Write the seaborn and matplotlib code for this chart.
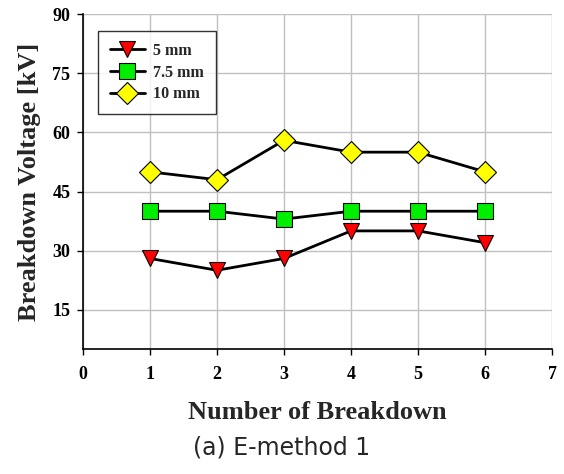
import matplotlib
matplotlib.use('Agg')
import matplotlib.pyplot as plt
import seaborn as sns
import pandas as pd

# data
breakdown_no = [1, 2, 3, 4, 5, 6]
gap_labels = ['5 mm', '7.5 mm', '10 mm']
v_5mm = [28, 25, 28, 35, 35, 32]
v_7_5mm = [40, 40, 38, 40, 40, 40]
v_10mm = [50, 48, 58, 55, 55, 50]
y_ticks = [15, 30, 45, 60, 75, 90]
x_ticks = [0, 1, 2, 3, 4, 5, 6, 7]

sns.set_style('white')
plt.rcParams['font.family'] = ['Liberation Serif', 'DejaVu Serif']
plt.rcParams['font.weight'] = 'bold'

series = {
    '5 mm': (v_5mm, 'v', '#ff0000'),
    '7.5 mm': (v_7_5mm, 's', '#00ee00'),
    '10 mm': (v_10mm, 'D', '#ffff00'),
}

fig = plt.figure(figsize=(5.64, 4.74), dpi=100)
ax = fig.add_axes([0.147, 0.2637, 0.832, 0.706])

for name in gap_labels:
    vals, mk, fc = series[name]
    df = pd.DataFrame({'n': breakdown_no, 'v': vals})
    ms = 12 if mk != 'D' else 11
    sns.lineplot(data=df, x='n', y='v', ax=ax, color='black', linewidth=2,
                 marker=mk, markersize=ms, markerfacecolor=fc,
                 markeredgecolor='black', markeredgewidth=0.8, label=name,
                 zorder=3)

ax.set_xlim(0, 7)
ax.set_ylim(5, 90)
ax.set_xticks(x_ticks)
ax.set_yticks(y_ticks)
ax.tick_params(axis='both', labelsize=13, direction='out', length=4,
               width=1, colors='black', left=True, bottom=True)
ax.tick_params(axis='x', pad=8)
ax.tick_params(axis='y', pad=5)
for lab in ax.get_xticklabels() + ax.get_yticklabels():
    lab.set_fontweight('bold')
ax.grid(True, color='#c0c0c0', linewidth=1)
for s in ['top', 'right']:
    ax.spines[s].set_visible(False)
for s in ['left', 'bottom']:
    ax.spines[s].set_color('black')
    ax.spines[s].set_linewidth(1.2)

ax.set_xlabel('Number of Breakdown', fontsize=19, fontweight='bold', labelpad=13)
ax.set_ylabel('Breakdown Voltage [kV]', fontsize=19, fontweight='bold', labelpad=8)

leg = ax.legend(loc='upper left', bbox_to_anchor=(0.032, 0.95), borderaxespad=0,
                frameon=True, fancybox=False, edgecolor='black', fontsize=11.5,
                handlelength=2.2, handletextpad=0.5, borderpad=0.75,
                labelspacing=0.35)
leg.get_frame().set_linewidth(1)
for t in leg.get_texts():
    t.set_fontweight('bold')

fig.text(0.5, 0.055, '(a) E-method 1', ha='center', va='center',
         fontsize=17, family=['DejaVu Sans'], fontweight='normal')

fig.savefig('out.png', dpi=100, facecolor='white')
